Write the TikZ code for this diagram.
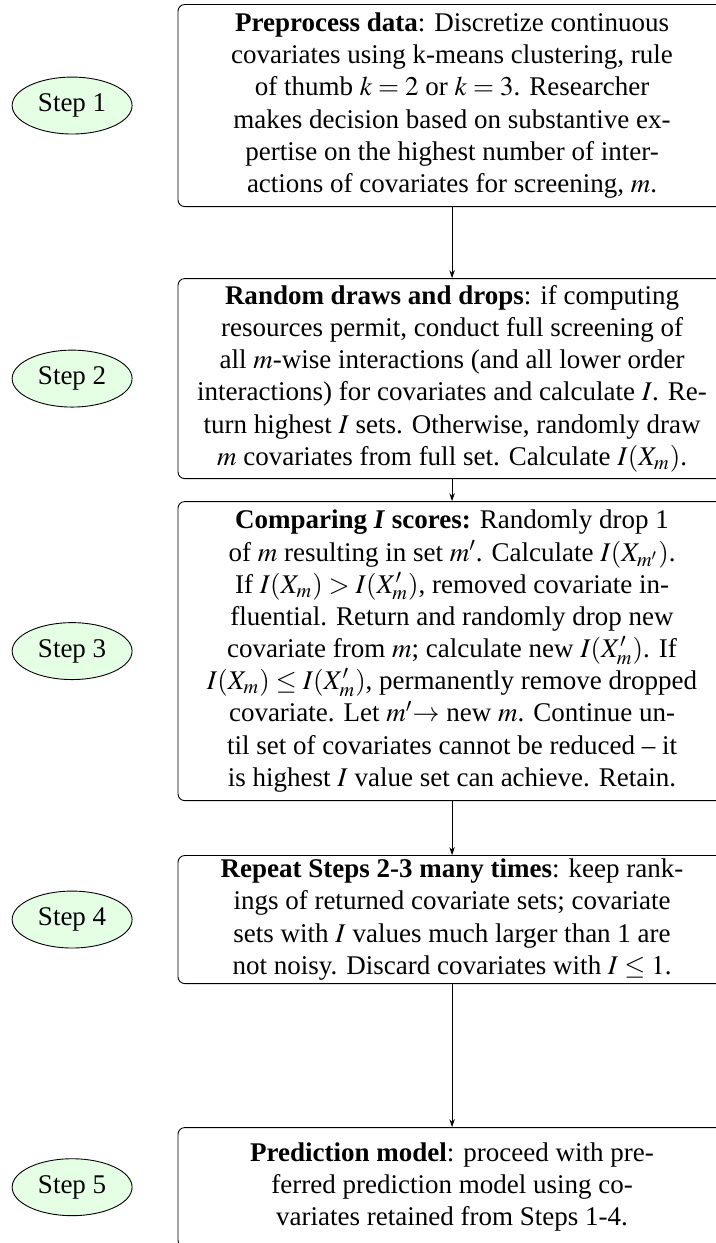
\documentclass[tikz,border=0pt]{standalone}
\usepackage{mathptmx}
\usepackage{fontspec}
\setmainfont{Liberation Serif}
\usetikzlibrary{positioning, arrows.meta, shapes.geometric}

\begin{document}
\begin{tikzpicture}[node distance=20pt, every node/.style={font=\fontsize{12}{14.3}\selectfont},
    stepbox/.style={rectangle, rounded corners=3pt, draw, align=center, minimum width=243.6pt, inner xsep=1pt, inner ysep=0.5pt},
    steptag/.style={ellipse, draw, fill=green!10, minimum width=53.3pt, minimum height=25.3pt, inner sep=0pt}]
        \useasboundingbox (0,0) rectangle (318.2pt,-552.4pt);
        \clip (0,0) rectangle (318.2pt,-552.4pt);
        \node[stepbox, minimum height=89.8pt, anchor=north] (prep) at (200.9pt,-1.8pt) {\textbf{Preprocess data}: Discretize continuous\\covariates using k-means clustering, rule\\of thumb $k = 2$ or $k = 3$. Researcher\\makes decision based on substantive ex-\\pertise on the highest number of inter-\\actions of covariates for screening, $m$.};
        \node[stepbox, minimum height=88.9pt, below=31.6pt of prep] (draws) {\textbf{Random draws and drops}: if computing\\resources permit, conduct full screening of\\all $m$-wise interactions (and all lower order\\interactions) for covariates and calculate $I$. Re-\\turn highest $I$ sets. Otherwise, randomly draw\\$m$ covariates from full set. Calculate $I(X_m)$.};
        \node[stepbox, minimum height=132.9pt, below=9.8pt of draws] (compare) {\textbf{Comparing \textit{I} scores:} Randomly drop 1\\of $m$ resulting in set $m'$. Calculate $I(X_{m'})$.\\If $I(X_m) > I(X'_m)$, removed covariate in-\\fluential. Return and randomly drop new\\covariate from $m$; calculate new $I(X'_m)$. If\\$I(X_m) \leq I(X'_m)$, permanently remove dropped\\covariate. Let $m'{\rightarrow}$ new $m$. Continue un-\\til set of covariates cannot be reduced -- it\\is highest $I$ value set can achieve. Retain.};
        \node[stepbox, minimum height=56.9pt, below=24pt of compare] (repeat) {\textbf{Repeat Steps 2-3 many times}: keep rank-\\ings of returned covariate sets; covariate\\sets with $I$ values much larger than 1 are\\not noisy. Discard covariates with $I \leq 1$.};
        \node[stepbox, minimum height=53pt, below=63.6pt of repeat] (predict) {\textbf{Prediction model}: proceed with pre-\\ferred prediction model using co-\\variates retained from Steps 1-4.};
        % Step labels
        \node[steptag, left=of prep] (s1) {Step 1};
        \node[steptag, left=of draws] (s2) {Step 2};
        \node[steptag, left=of compare] (s3) {Step 3};
        \node[steptag, left=of repeat] (s4) {Step 4};
        \node[steptag, left=of predict] (s5) {Step 5};
        % Arrows between steps
        \draw[-{Stealth[length=3.5pt, width=2.4pt]}] (prep) -- (draws);
        \draw[-{Stealth[length=3.5pt, width=2.4pt]}] (draws) -- (compare);
        \draw[-{Stealth[length=3.5pt, width=2.4pt]}] (compare) -- (repeat);
        \draw[-{Stealth[length=3.5pt, width=2.4pt]}] (repeat) -- (predict);
    \end{tikzpicture}
\end{document}
